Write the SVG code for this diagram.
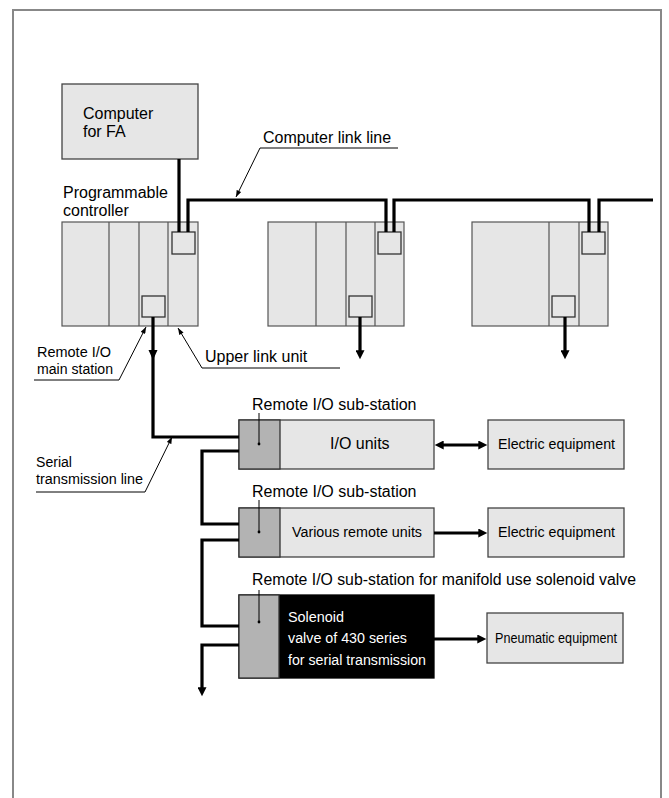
<svg xmlns="http://www.w3.org/2000/svg" width="669" height="798" viewBox="0 0 669 798">
<style>
text{font-family:"Liberation Sans",Arial,sans-serif;font-size:16px;fill:#000}
.sm{font-size:15.5px}
.w{fill:#fff}
.box{fill:#e6e6e6;stroke:#444;stroke-width:1.3}
.plc{fill:#e6e6e6;stroke:#555;stroke-width:1.2}
.div{stroke:#555;stroke-width:1.2;fill:none}
.port{fill:#e6e6e6;stroke:#333;stroke-width:1.3}
.dark{fill:#b3b3b3;stroke:#333;stroke-width:1.3}
.thick{fill:none;stroke:#000;stroke-width:3.2}
.thin{fill:none;stroke:#000;stroke-width:1}
.frame{fill:none;stroke:#888;stroke-width:2}
</style>
<defs>
<marker id="ah" viewBox="0 0 10 10" refX="3" refY="5" markerWidth="10" markerHeight="9" markerUnits="userSpaceOnUse" orient="auto-start-reverse"><path d="M0,0 L10,5 L0,10 z" fill="#000"/></marker>
<marker id="la" viewBox="0 0 8 6" refX="8" refY="3" markerWidth="8" markerHeight="5" markerUnits="userSpaceOnUse" orient="auto"><path d="M0,0 L8,3 L0,6 z" fill="#000"/></marker>
<g id="plcbody">
<rect class="plc" x="0" y="0" width="136" height="104"/>
<rect class="port" x="110" y="10" width="23" height="22"/>
<rect class="port" x="80" y="74" width="23" height="21"/>
</g>
</defs>
<path class="frame" d="M13,798 V10 H661 V798"/>
<g id="computer">
<rect class="box" x="62" y="84" width="136" height="75"/>
<text x="83" y="119">Computer</text>
<text x="83" y="137">for FA</text>
</g>
<g id="plc1">
<rect class="plc" x="62" y="222" width="136" height="104"/>
<path class="div" d="M109,222 V326 M139,222 V326 M168,222 V326"/>
<rect class="port" x="172" y="232" width="23" height="22"/>
<rect class="port" x="142" y="296" width="23" height="21"/>
<text x="63" y="198">Programmable</text>
<text x="63" y="216">controller</text>
</g>
<g id="plc2">
<rect class="plc" x="268" y="222" width="136" height="104"/>
<path class="div" d="M316,222 V326 M346,222 V326 M375,222 V326"/>
<rect class="port" x="378" y="232" width="23" height="22"/>
<rect class="port" x="349" y="296" width="23" height="21"/>
</g>
<g id="plc3">
<rect class="plc" x="472" y="222" width="136" height="104"/>
<path class="div" d="M549,222 V326 M579,222 V326"/>
<rect class="port" x="582" y="232" width="23" height="22"/>
<rect class="port" x="552" y="296" width="23" height="21"/>
</g>
<g id="sub1">
<rect class="box" x="239" y="420" width="195" height="49"/>
<rect class="dark" x="239" y="420" width="41" height="49"/>
<text x="252" y="410">Remote I/O sub-station</text>
<text x="330" y="449">I/O units</text>
</g>
<g id="sub2">
<rect class="box" x="239" y="508" width="195" height="49"/>
<rect class="dark" x="239" y="508" width="41" height="49"/>
<text x="252" y="497">Remote I/O sub-station</text>
<text class="sm" x="292" y="537" textLength="130" lengthAdjust="spacingAndGlyphs">Various remote units</text>
</g>
<g id="sub3">
<rect x="239" y="595" width="195" height="83" fill="#000" stroke="#000" stroke-width="1.3"/>
<rect class="dark" x="239" y="595" width="40" height="83"/>
<text x="252" y="585" textLength="384" lengthAdjust="spacingAndGlyphs">Remote I/O sub-station for manifold use solenoid valve</text>
<text class="sm w" x="288" y="622" textLength="56" lengthAdjust="spacingAndGlyphs">Solenoid</text>
<text class="sm w" x="288" y="643" textLength="119" lengthAdjust="spacingAndGlyphs">valve of 430 series</text>
<text class="sm w" x="288" y="665" textLength="138" lengthAdjust="spacingAndGlyphs">for serial transmission</text>
</g>
<g id="elec1">
<rect class="box" x="488" y="420" width="136" height="49"/>
<text class="sm" x="498" y="449" textLength="117" lengthAdjust="spacingAndGlyphs">Electric equipment</text>
</g>
<g id="elec2">
<rect class="box" x="488" y="508" width="136" height="49"/>
<text class="sm" x="498" y="537" textLength="117" lengthAdjust="spacingAndGlyphs">Electric equipment</text>
</g>
<g id="pneu">
<rect class="box" x="487" y="613" width="136" height="50"/>
<text class="sm" x="495" y="643" textLength="122" lengthAdjust="spacingAndGlyphs">Pneumatic equipment</text>
</g>
<g id="labels">
<text x="263" y="143">Computer link line</text>
<text class="sm" x="37" y="357" textLength="74" lengthAdjust="spacingAndGlyphs">Remote I/O</text>
<text class="sm" x="37" y="374" textLength="76" lengthAdjust="spacingAndGlyphs">main station</text>
<text x="205" y="362">Upper link unit</text>
<text class="sm" x="36" y="467" textLength="36" lengthAdjust="spacingAndGlyphs">Serial</text>
<text class="sm" x="36" y="484" textLength="107" lengthAdjust="spacingAndGlyphs">transmission line</text>
</g>
<g id="connectors">
<path class="thick" d="M179,159 V232"/>
<path class="thick" d="M188,232 V200 H386 V232"/>
<path class="thick" d="M394,232 V200 H589 V232"/>
<path class="thick" d="M599,232 V200 H653"/>
<path class="thick" d="M360,317 V353" marker-end="url(#ah)"/>
<path class="thick" d="M565,317 V353" marker-end="url(#ah)"/>
<path class="thick" d="M153,317 V437 H239"/>
<path d="M148.5,350 L157.5,350 L153,360 z" fill="#000"/>
<path class="thick" d="M239,451 H202 V524 H239"/>
<path class="thick" d="M239,540 H202 V626 H239"/>
<path class="thick" d="M239,645 H202 V690" marker-end="url(#ah)"/>
<path class="thick" d="M441,445 H481" marker-start="url(#ah)" marker-end="url(#ah)"/>
<path class="thick" d="M434,533 H481" marker-end="url(#ah)"/>
<path class="thick" d="M434,639 H480" marker-end="url(#ah)"/>
<path class="thin" d="M398,148 H260 L236,197" marker-end="url(#la)"/>
<path class="thin" d="M34,380 H119 L146,327" marker-end="url(#la)"/>
<path class="thin" d="M340,368 H202 L178,328" marker-end="url(#la)"/>
<path class="thin" d="M36,492 H145 L172,437" marker-end="url(#la)"/>
<path class="thin" d="M259,413 V444"/>
<circle cx="259" cy="444" r="1.4"/>
<path class="thin" d="M259,500 V532"/>
<circle cx="259" cy="532" r="1.4"/>
<path class="thin" d="M259,590 V622"/>
<circle cx="259" cy="622" r="1.4"/>
</g>
</svg>
